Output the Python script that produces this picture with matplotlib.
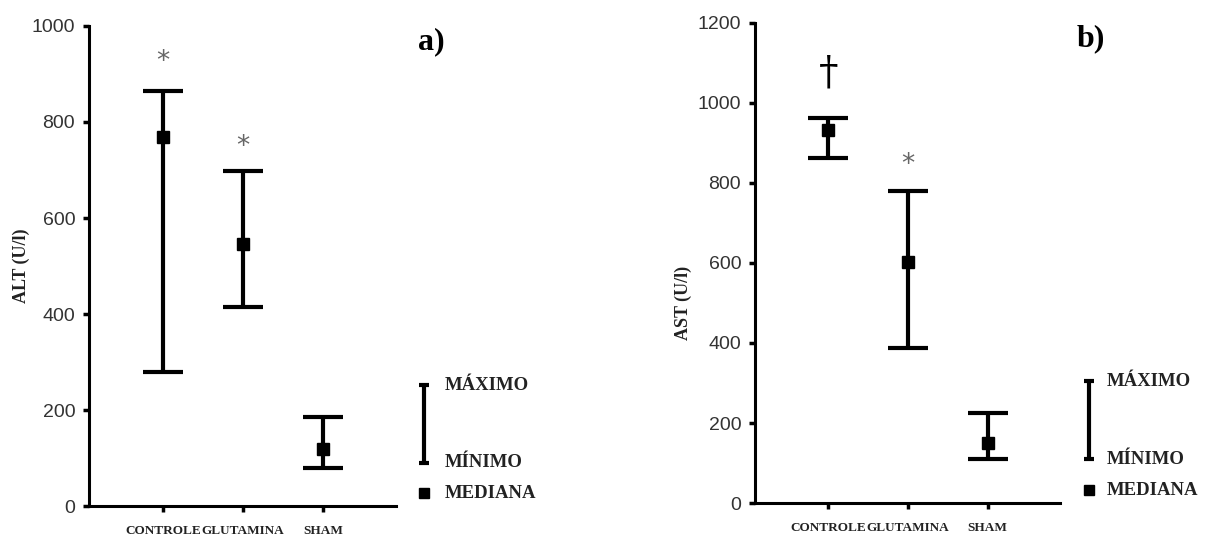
import numpy as np
import matplotlib.pyplot as plt

groups = ["CONTROLE", "GLUTAMINA", "SHAM"]

alt_max = [865, 697, 185]
alt_med = [768, 546, 118]
alt_min = [279, 415, 79]
alt_marks = ["*", "*", ""]

ast_max = [963, 780, 225]
ast_med = [932, 602, 150]
ast_min = [862, 387, 110]
ast_marks = ["\u2020", "*", ""]

legend_labels = ["MÁXIMO", "MÍNIMO", "MEDIANA"]

SERIF = "Liberation Serif"
SANS = "Liberation Sans"


def draw_panel(ax, vmax, vmed, vmin, marks, ymax, ylabel, letter, mark_y, leg):
    x = np.arange(1, len(groups) + 1)
    vmax = np.asarray(vmax)
    vmed = np.asarray(vmed)
    vmin = np.asarray(vmin)

    ax.errorbar(x, vmed, yerr=[vmed - vmin, vmax - vmed], fmt="s", color="black",
                markersize=8, elinewidth=3, capsize=14.5, capthick=3)

    for xi, m, my in zip(x, marks, mark_y):
        if not m:
            continue
        if m == "*":
            ax.text(xi, my, m, ha="center", va="center", fontsize=19,
                    color="#666666", family="DejaVu Sans")
        else:
            ax.text(xi, my, m, ha="center", va="center", fontsize=28,
                    color="black", family="DejaVu Serif")

    ax.set_xlim(0.08, 3.91)
    ax.set_ylim(0, ymax)
    ax.set_yticks(np.arange(0, ymax + 1, 200))
    ax.set_xticks(x)
    ax.set_xticklabels(groups, family=SERIF, fontsize=9.5, fontweight="bold",
                       color="#222222")
    for lab in ax.get_yticklabels():
        lab.set_family(SANS)
        lab.set_fontsize(14)
        lab.set_color("#333333")

    for s in ["top", "right"]:
        ax.spines[s].set_visible(False)
    for s in ["left", "bottom"]:
        ax.spines[s].set_linewidth(2.2)
    ax.tick_params(axis="y", length=4, width=2.5, pad=6)
    ax.tick_params(axis="x", length=4, width=2.5, pad=10)

    ax.set_ylabel(ylabel, family=SERIF, fontsize=13, fontweight="bold",
                  color="#222222")

    # key for the whiskers and median marker
    lx, ltop, lbot, lmed, tx = leg
    ax.errorbar([lx], [(ltop + lbot) / 2], yerr=[[(ltop - lbot) / 2], [(ltop - lbot) / 2]],
                fmt="none", ecolor="black", elinewidth=3, capsize=3.8, capthick=3,
                clip_on=False)
    ax.plot([lx], [lmed], "s", color="black", markersize=6.5, clip_on=False)
    ax.text(tx, ltop, legend_labels[0], ha="left", va="center", family=SERIF,
            fontsize=13.5, fontweight="bold", color="#222222", clip_on=False)
    ax.text(tx, lbot, legend_labels[1], ha="left", va="center", family=SERIF,
            fontsize=13.5, fontweight="bold", color="#222222", clip_on=False)
    ax.text(tx, lmed, legend_labels[2], ha="left", va="center", family=SERIF,
            fontsize=13.5, fontweight="bold", color="#222222", clip_on=False)

    ax.text(letter[0], letter[1], letter[2], ha="center", va="center", family=SERIF,
            fontsize=23, fontweight="bold", color="black")


fig = plt.figure(figsize=(12.05, 5.37), dpi=100)

ax_a = fig.add_axes([0.0739, 0.0577, 0.2548, 0.8939])
draw_panel(ax_a, alt_max, alt_med, alt_min, alt_marks, 1000, "ALT (U/l)",
           (4.35, 968, "a)"), [925, 748, 0],
           (4.26, 252, 90, 27, 4.52))
ax_a.yaxis.set_label_coords(-0.192, 0.5)

ax_b = fig.add_axes([0.6266, 0.0633, 0.2531, 0.8939])
draw_panel(ax_b, ast_max, ast_med, ast_min, ast_marks, 1200, "AST (U/l)",
           (4.30, 1160, "b)"), [1075, 845, 0],
           (4.275, 305, 110, 32, 4.50))
ax_b.yaxis.set_label_coords(-0.206, 0.417)

fig.savefig("out.png", dpi=100)
